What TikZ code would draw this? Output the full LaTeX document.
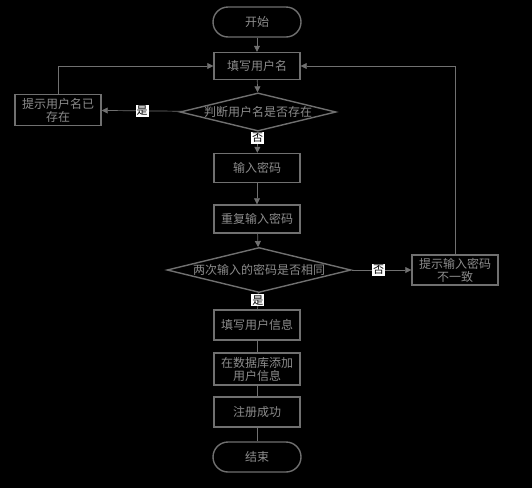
\documentclass[tikz,border=0pt]{standalone}
\usepackage{fontspec}
\setmainfont{Noto Sans CJK SC}
\usetikzlibrary{arrows.meta,shapes.geometric}
\definecolor{lineg}{HTML}{707070}
\definecolor{textg}{HTML}{8C8C8C}
\tikzset{
  stepbox/.style={rectangle, draw=lineg, line width=1.4pt,
    minimum width=86pt, minimum height=29pt, text width=78pt, align=center, text=textg, inner sep=1pt},
  termbox/.style={rectangle, rounded corners=15pt, draw=lineg, line width=1.4pt,
    minimum width=88pt, minimum height=30pt, text=textg},
  testbox/.style={diamond, aspect=4, draw=lineg, line width=1.4pt,
    inner sep=0pt, text=textg},
  yesno/.style={fill=white, text=black, inner sep=1pt, font=\fontsize{11}{12}\selectfont},
  flow/.style={draw=lineg, line width=0.7pt, -{Triangle[length=6pt,width=6pt]}},
  link/.style={draw=lineg, line width=0.7pt}
}
\begin{document}
\begin{tikzpicture}[x=1pt, y=1pt, every node/.style={font=\fontsize{12}{13}\selectfont}]

    \fill[black] (0,0) rectangle (532,-488);
    \useasboundingbox (0,0) rectangle (532,-488);

    % main column
    \node (start) [termbox] at (257,-22) {开始};
    \node (name) [stepbox, minimum height=27pt] at (257,-66) {填写用户名};
    \node (chk1) [testbox, minimum width=156pt, minimum height=38pt] at (258,-112) {判断用户名是否存在};
    \node (pwd) [stepbox] at (257,-168) {输入密码};
    \node (pwd2) [stepbox, minimum height=28pt] at (257,-219) {重复输入密码};
    \node (chk2) [testbox, minimum width=184pt, minimum height=45pt] at (259,-270) {两次输入的密码是否相同};
    \node (info) [stepbox, minimum height=30pt] at (257,-325) {填写用户信息};
    \node (db) [stepbox, minimum height=32pt] at (257,-369) {在数据库添加\\用户信息};
    \node (ok) [stepbox, minimum height=30pt] at (257,-412) {注册成功};
    \node (stop) [termbox] at (257,-457) {结束};

    % side boxes
    \node (dupname) [stepbox, minimum height=31pt] at (58,-110) {提示用户名已\\存在};
    \node (diffpwd) [stepbox, minimum height=30pt] at (455,-270) {提示输入密码\\不一致};

    \coordinate (lturn) at (58,-66);
    \coordinate (rturn) at (455,-66);

    % connectors
    \draw[flow] (start) -- (name);
    \draw[flow] (name) -- (chk1);
    \draw[flow] (chk1) -- node[yesno] {是} (dupname);
    \draw[link] (dupname) -- (lturn);
    \draw[flow] (lturn) -- (name);
    \draw[flow] (chk1) -- node[yesno, pos=0.3] {否} (pwd);
    \draw[flow] (pwd) -- (pwd2);
    \draw[flow] (pwd2) -- (chk2);
    \draw[flow] (chk2) -- node[yesno, pos=0.45] {否} (diffpwd);
    \draw[link] (diffpwd) -- (rturn);
    \draw[flow] (rturn) -- (name);
    \draw[link] (chk2) -- node[yesno, pos=0.45] {是} (info);
    \draw[link] (info) -- (db);
    \draw[link] (db) -- (ok);
    \draw[link] (ok) -- (stop);

\end{tikzpicture}
\end{document}
